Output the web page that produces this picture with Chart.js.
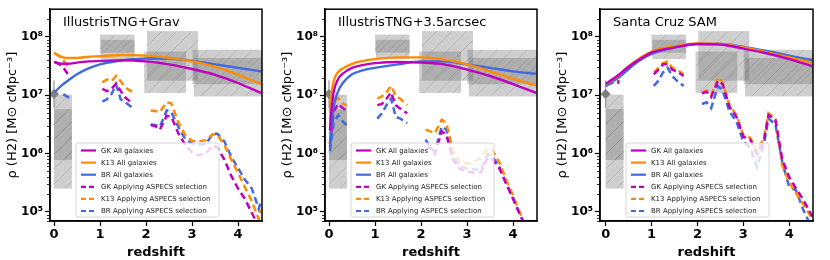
<!DOCTYPE html>
<html>
<head>
<meta charset="utf-8">
<script src="https://cdn.jsdelivr.net/npm/chart.js@4.4.1/dist/chart.umd.min.js"></script>
<style>
  body { margin: 0; background: #fff; }
  .row { display: flex; width: 830px; height: 260px; }
  canvas { display: block; }
</style>
</head>
<body>
<div class="row">
  <canvas id="c1" width="275" height="260"></canvas>
  <canvas id="c2" width="275" height="260"></canvas>
  <canvas id="c3" width="280" height="260"></canvas>
</div>
<script>
// ---- data (values are log10 of rho(H2)) ----
const panelTitles = ['IllustrisTNG+Grav', 'IllustrisTNG+3.5arcsec', 'Santa Cruz SAM'];
const seriesNames = ['GK', 'K13', 'BR'];
const seriesColors = ['#bf00bf', '#ff8c00', '#4169e1'];

const solidZ1 = [0, 0.05, 0.1, 0.2, 0.3, 0.5, 0.75, 1, 1.5, 2, 2.5, 3, 3.5, 4, 4.5];
const solidZ2 = [0.02, 0.05, 0.1, 0.2, 0.3, 0.5, 0.75, 1, 1.5, 2, 2.5, 3, 3.5, 4, 4.5];
const solidZ3 = [0, 0.05, 0.1, 0.2, 0.3, 0.5, 0.75, 1, 1.5, 2, 2.5, 3, 3.5, 4, 4.5];
const dashZ = [0.02, 0.1, 0.2, 0.3, 0.38, 0.7, 1.05, 1.15, 1.25, 1.35, 1.45, 1.55, 1.7, 1.9,
  2.1, 2.2, 2.3, 2.45, 2.55, 2.7, 2.85, 3.0, 3.15, 3.3, 3.45, 3.55, 3.7, 3.85, 4.0, 4.15, 4.3, 4.45, 4.5];

// IllustrisTNG+Grav
const gravGK  = [7.57, 7.56, 7.55, 7.54, 7.54, 7.56, 7.58, 7.59, 7.60, 7.58, 7.53, 7.45, 7.35, 7.21, 7.04];
const gravK13 = [7.73, 7.70, 7.68, 7.65, 7.64, 7.64, 7.66, 7.67, 7.69, 7.68, 7.64, 7.58, 7.49, 7.35, 7.19];
const gravBR  = [7.05, 7.08, 7.12, 7.19, 7.25, 7.36, 7.46, 7.53, 7.60, 7.63, 7.63, 7.59, 7.53, 7.47, 7.41];
const gravGKsel  = [7.57, 7.54, 7.48, 7.36, null, null, 7.11, 7.07, 7.11, 7.20, 7.07, 6.96, 6.86, null,
  6.49, 6.47, 6.41, 6.65, 6.63, 6.35, 6.15, 6.02, 5.97, 6.00, 6.14, 6.10, 5.90, 5.62, 5.40, 5.22, 4.98, 4.75, null];
const gravK13sel = [7.72, 7.68, 7.60, 7.49, null, null, 7.22, 7.27, 7.24, 7.33, 7.24, 7.13, 7.06, null,
  6.74, 6.73, 6.71, 6.88, 6.86, 6.54, 6.32, 6.22, 6.21, 6.23, 6.33, 6.32, 6.15, 5.90, 5.67, 5.42, 5.18, 4.87, 5.04];
const gravBRsel  = [null, null, 7.02, 6.97, 6.93, null, 6.89, 6.93, 7.02, 7.18, 6.93, 6.88, 6.79, null,
  6.50, 6.49, 6.46, 6.74, 6.71, 6.46, 6.25, 6.17, 6.15, 6.16, 6.34, 6.34, 6.21, 5.95, 5.75, 5.55, 5.40, 5.05, 5.20];

// IllustrisTNG+3.5arcsec
const arcGK  = [6.40, 6.72, 7.05, 7.28, 7.37, 7.47, 7.52, 7.55, 7.57, 7.56, 7.53, 7.44, 7.33, 7.19, 7.04];
const arcK13 = [6.72, 7.00, 7.24, 7.40, 7.46, 7.54, 7.59, 7.62, 7.65, 7.65, 7.61, 7.53, 7.41, 7.28, 7.17];
const arcBR  = [6.10, 6.45, 6.80, 7.07, 7.21, 7.36, 7.43, 7.47, 7.53, 7.58, 7.58, 7.53, 7.47, 7.41, 7.37];
const arcGKsel  = [6.16, 6.72, 6.85, 6.78, 6.74, null, 6.83, 6.85, 6.94, 7.05, 6.83, 6.77, 6.69, null,
  6.08, 6.10, 5.99, 6.38, 6.32, 5.88, 5.73, 5.69, 5.67, 5.68, 5.93, 5.90, 5.75, 5.48, 5.22, 4.95, 4.70, null, null];
const arcK13sel = [6.16, 6.90, 6.95, 6.86, 6.82, null, 6.94, 6.98, 7.05, 7.16, 6.99, 6.94, 6.83, null,
  6.41, 6.38, 6.35, 6.58, 6.52, 6.04, 5.84, 5.83, 5.85, 5.93, 6.08, 6.06, 5.85, 5.55, 5.28, 4.98, 4.70, null, null];
const arcBRsel  = [6.04, 6.52, 6.66, 6.55, 6.49, null, 6.60, 6.69, 6.83, 6.94, 6.63, 6.60, 6.52, null,
  6.24, 6.10, 6.03, 6.46, 6.41, 5.93, 5.78, 5.74, 5.73, 5.72, 5.99, 5.95, 5.78, 5.50, 5.24, 4.96, 4.70, null, null];

// Santa Cruz SAM
const scGK  = [7.20, 7.22, 7.25, 7.30, 7.36, 7.49, 7.62, 7.73, 7.82, 7.88, 7.87, 7.80, 7.72, 7.62, 7.50];
const scK13 = [7.19, 7.21, 7.24, 7.29, 7.35, 7.50, 7.64, 7.75, 7.84, 7.89, 7.88, 7.82, 7.74, 7.65, 7.56];
const scBR  = [7.16, 7.18, 7.21, 7.26, 7.31, 7.45, 7.60, 7.71, 7.82, 7.88, 7.88, 7.83, 7.76, 7.68, 7.60];
const scGKsel  = [7.20, 7.22, 7.24, 7.23, null, null, 7.36, 7.44, 7.53, 7.53, 7.44, 7.41, 7.33, null,
  7.03, 7.06, 6.97, 7.25, 7.19, 6.80, 6.63, 6.29, 6.24, 5.99, 6.22, 6.66, 6.58, 5.90, 5.60, 5.40, 5.22, 5.00, 4.92];
const scK13sel = [7.20, 7.22, 7.25, 7.24, null, null, 7.39, 7.47, 7.55, 7.58, 7.47, 7.44, 7.36, null,
  7.05, 7.08, 7.00, 7.30, 7.22, 6.83, 6.66, 6.32, 6.27, 6.04, 6.27, 6.69, 6.60, 5.80, 5.51, 5.32, 5.14, 4.95, 4.88];
const scBRsel  = [7.18, 7.20, 7.22, 7.21, null, null, 7.16, 7.25, 7.39, 7.47, 7.33, 7.25, 7.16, null,
  6.85, 6.88, 6.78, 7.16, 7.08, 6.72, 6.55, 6.21, 6.10, 5.77, 6.16, 6.60, 6.50, 5.85, 5.43, 5.37, 5.05, 4.80, 4.76];

// ASPECS constraints (grey boxes): redshift range and log10 rho range
const boxZlo   = [0.0, 0.0, 1.0, 1.02, 1.96, 2.02, 3.01, 3.04];
const boxZhi   = [0.39, 0.39, 1.75, 1.75, 2.87, 3.13, 4.7, 4.7];
const boxLogLo = [5.89, 5.40, 7.73, 7.62, 7.04, 7.25, 7.19, 6.98];
const boxLogHi = [7.01, 6.76, 8.04, 7.95, 7.75, 8.10, 7.78, 7.64];

// local observation (diamond + error bar)
const obsZ = 0, obsRho = 1.05e7, obsLo = 6.1e6, obsHi = 1.8e7;

const yTickValues = [1e5, 1e6, 1e7, 1e8];
const yTickLabels = ['10⁵', '10⁶', '10⁷', '10⁸'];
const xTickValues = [0, 1, 2, 3, 4];

const toPts = (zs, logs) => zs.map((z, i) => ({ x: z, y: logs[i] == null ? null : Math.pow(10, logs[i]) }));

const boxesPlugin = {
  id: 'boxes',
  beforeDatasetsDraw(chart) {
    const { ctx, chartArea: a, scales: { x, y } } = chart;
    ctx.save();
    ctx.beginPath(); ctx.rect(a.left, a.top, a.right - a.left, a.bottom - a.top); ctx.clip();
    for (let i = 0; i < boxZlo.length; i++) {
      const x0 = x.getPixelForValue(boxZlo[i]), x1 = x.getPixelForValue(boxZhi[i]);
      const y0 = y.getPixelForValue(Math.pow(10, boxLogHi[i])), y1 = y.getPixelForValue(Math.pow(10, boxLogLo[i]));
      ctx.fillStyle = 'rgba(120,120,120,0.36)';
      ctx.fillRect(x0, y0, x1 - x0, y1 - y0);
      // hatch
      ctx.save();
      ctx.beginPath(); ctx.rect(x0, y0, x1 - x0, y1 - y0); ctx.clip();
      ctx.strokeStyle = 'rgba(80,80,80,0.3)'; ctx.lineWidth = 0.6;
      const h = y1 - y0;
      for (let s = -h; s < x1 - x0 + h; s += 15) {
        ctx.beginPath(); ctx.moveTo(x0 + s, y1); ctx.lineTo(x0 + s + h, y0); ctx.stroke();
      }
      ctx.restore();
    }
    ctx.restore();
  }
};

const framePlugin = {
  id: 'frame',
  afterDraw(chart, args, opts) {
    const { ctx, chartArea: a, scales: { y } } = chart;
    ctx.save();
    // minor log ticks
    ctx.strokeStyle = '#000'; ctx.lineWidth = 0.8;
    for (let n = 4; n <= 8; n++) {
      for (let k = 2; k <= 9; k++) {
        const v = k * Math.pow(10, n);
        if (v < y.min || v > y.max) continue;
        const py = Math.round(y.getPixelForValue(v)) + 0.5;
        ctx.beginPath(); ctx.moveTo(a.left - 3, py); ctx.lineTo(a.left, py); ctx.stroke();
      }
    }
    ctx.lineWidth = 1.5;
    ctx.strokeRect(a.left, a.top, a.right - a.left, a.bottom - a.top);
    // panel title
    ctx.fillStyle = '#000';
    ctx.font = '13px "DejaVu Sans"';
    ctx.textBaseline = 'middle';
    ctx.fillText(opts.title, a.left + 13, a.top + 13);
    // legend
    const lx = a.left + 26, ly = 143, lw = 143, lh = 74;
    ctx.fillStyle = 'rgba(255,255,255,0.8)';
    ctx.strokeStyle = '#cccccc'; ctx.lineWidth = 0.8;
    ctx.beginPath(); ctx.roundRect(lx, ly, lw, lh, 2); ctx.fill(); ctx.stroke();
    ctx.font = '7px "DejaVu Sans"';
    chart.data.datasets.slice(0, 6).forEach((ds, i) => {
      const ry = ly + 7.5 + i * 12.1;
      ctx.strokeStyle = ds.borderColor; ctx.lineWidth = 2.2;
      ctx.setLineDash(ds.borderDash ? [5, 3] : []);
      ctx.beginPath(); ctx.moveTo(lx + 5, ry); ctx.lineTo(lx + 20, ry); ctx.stroke();
      ctx.setLineDash([]);
      ctx.fillStyle = '#222';
      ctx.fillText(ds.label, lx + 25, ry + 0.5);
    });
    ctx.restore();
  }
};

function makePanel(id, title, solidZ, solid, sel, xMin, padRight) {
  const datasets = [];
  solid.forEach((s, i) => datasets.push({
    label: seriesNames[i] + ' All galaxies', data: toPts(solidZ, s),
    borderColor: seriesColors[i], borderWidth: 2.4, pointRadius: 0,
    cubicInterpolationMode: 'monotone', spanGaps: false
  }));
  sel.forEach((s, i) => datasets.push({
    label: seriesNames[i] + ' Applying ASPECS selection', data: toPts(dashZ, s),
    borderColor: seriesColors[i], borderWidth: 2.5, borderDash: [7, 4], pointRadius: 0,
    tension: 0, spanGaps: false
  }));
  datasets.push({
    label: 'obs err', data: [{ x: obsZ, y: obsLo }, { x: obsZ, y: obsHi }],
    borderColor: '#808080', borderWidth: 1, pointRadius: 0
  });
  datasets.push({
    label: 'obs', data: [{ x: obsZ, y: obsRho }], showLine: false,
    pointStyle: 'rectRot', pointRadius: 4.5, backgroundColor: '#808080', borderColor: '#808080'
  });

  new Chart(document.getElementById(id), {
    type: 'line',
    data: { datasets },
    options: {
      responsive: false,
      animation: false,
      clip: true,
      layout: { padding: { left: 0, right: padRight, top: 5, bottom: 0 } },
      plugins: { legend: { display: false }, tooltip: { enabled: false }, frame: { title } },
      scales: {
        x: {
          type: 'linear', min: xMin, max: 4.52,
          afterBuildTicks: s => { s.ticks = xTickValues.map(v => ({ value: v })); },
          afterFit: s => { s.height = 39; },
          grid: { drawOnChartArea: false, tickLength: 5, tickColor: '#000', tickWidth: 1.2 },
          border: { color: '#000', width: 1.5 },
          ticks: { color: '#000', padding: 1, font: { family: 'DejaVu Sans', size: 13, weight: 'bold' } },
          title: { display: true, text: 'redshift', color: '#000', padding: 0,
                   font: { family: 'DejaVu Sans', size: 13, weight: 'bold' } }
        },
        y: {
          type: 'logarithmic', min: 6.97e4, max: 2.99e8,
          afterBuildTicks: s => { s.ticks = yTickValues.map(v => ({ value: v })); },
          afterFit: s => { s.width = 50; },
          grid: { drawOnChartArea: false, tickLength: 5, tickColor: '#000', tickWidth: 1.2 },
          border: { color: '#000', width: 1.5 },
          ticks: {
            color: '#000', padding: 2, font: { family: 'DejaVu Sans', size: 12, weight: 'bold' },
            callback: (v, i) => yTickLabels[i]
          },
          title: { display: true, text: 'ρ (H2) [M⊙ cMpc⁻³]', color: '#000', padding: { top: 5, bottom: 0 },
                   font: { family: 'DejaVu Sans', size: 13 } }
        }
      }
    },
    plugins: [boxesPlugin, framePlugin]
  });
}

makePanel('c1', panelTitles[0], solidZ1, [gravGK, gravK13, gravBR], [gravGKsel, gravK13sel, gravBRsel], -0.087, 13);
makePanel('c2', panelTitles[1], solidZ2, [arcGK, arcK13, arcBR], [arcGKsel, arcK13sel, arcBRsel], -0.087, 13);
makePanel('c3', panelTitles[2], solidZ3, [scGK, scK13, scBR], [scGKsel, scK13sel, scBRsel], -0.124, 17);
</script>
</body>
</html>
